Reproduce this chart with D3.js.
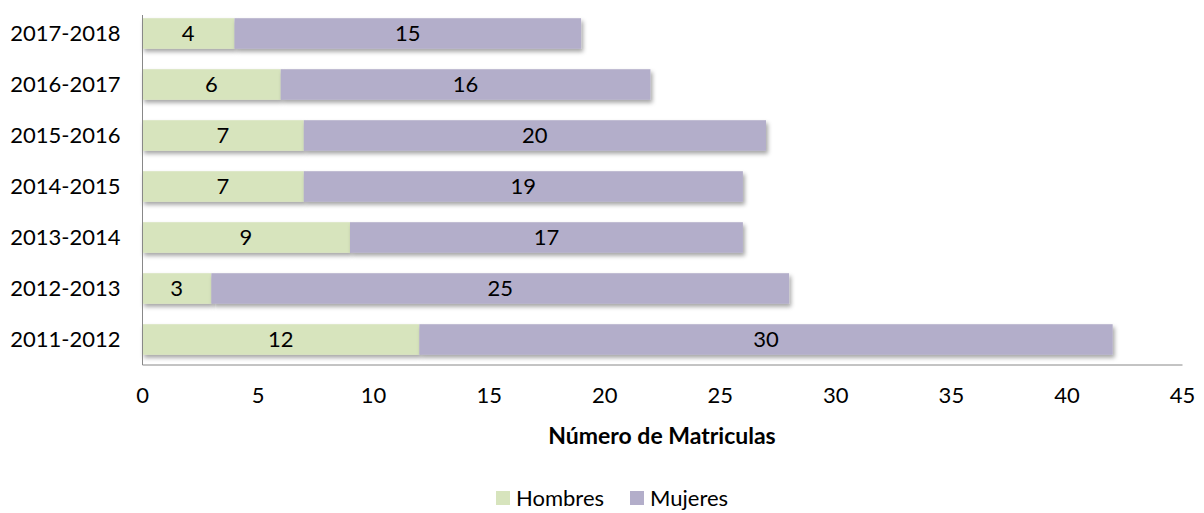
<!DOCTYPE html>
<html><head><meta charset="utf-8">
<script src="https://cdn.jsdelivr.net/npm/d3@7"></script>
<style>body{margin:0;background:#fff}svg{display:block}text{font-family:Lato,"Open Sans",sans-serif;fill:#000}</style>
</head><body><svg id="c" width="1204" height="513"></svg>
<script>
const categories = ["2017-2018","2016-2017","2015-2016","2014-2015","2013-2014","2012-2013","2011-2012"];
const hombres = [4,6,7,7,9,3,12];
const mujeres = [15,16,20,19,17,25,30];
const seriesNames = ["Hombres","Mujeres"];
const colors = ["#d7e4bd","#b3aeca"];
const xTicks = [0,5,10,15,20,25,30,35,40,45];

const svg = d3.select("#c");
const defs = svg.append("defs");
const f = defs.append("filter").attr("id","sh").attr("x","-5%").attr("y","-20%").attr("width","110%").attr("height","160%");
f.append("feDropShadow").attr("dx",2).attr("dy",3).attr("stdDeviation",2).attr("flood-color","#000").attr("flood-opacity",0.35);

const x = d3.scaleLinear().domain([0,45]).range([142,1182]);
const y = d3.scaleBand().domain(categories).range([8,365]).paddingInner(0.4).paddingOuter(0.2);

const data = categories.map((c,i)=>({c, vals:[hombres[i],mujeres[i]]}));
const stacked = d3.stack().keys([0,1]).value((d,k)=>d.vals[k])(data);

stacked.forEach((layer,k)=>{
  svg.append("g").selectAll("rect").data(layer).join("rect")
    .attr("x",d=>x(d[0])).attr("width",d=>x(d[1])-x(d[0]))
    .attr("y",d=>y(d.data.c)).attr("height",y.bandwidth())
    .attr("fill",colors[k]).attr("filter","url(#sh)");
});
stacked.forEach((layer,k)=>{
  svg.append("g").selectAll("text").data(layer).join("text")
    .attr("x",d=>(x(d[0])+x(d[1]))/2).attr("y",d=>y(d.data.c)+y.bandwidth()/2)
    .attr("dy","0.36em").attr("text-anchor","middle").attr("font-size",22)
    .text(d=>d[1]-d[0]);
});

// axes
const xa = svg.append("g").attr("transform","translate(0,364.5)")
  .call(d3.axisBottom(x).tickValues(xTicks).tickSize(0).tickPadding(23));
xa.select(".domain").attr("stroke","#888");
xa.selectAll("text").attr("font-size",22).style("font-family","Lato,'Open Sans',sans-serif").attr("fill","#000");

const ya = svg.append("g").attr("transform","translate(142.5,0)")
  .call(d3.axisLeft(y).tickSize(0).tickPadding(22));
ya.select(".domain").attr("stroke","#888").attr("d","M0,15V365");
ya.selectAll("text").attr("font-size",22).style("font-family","Lato,'Open Sans',sans-serif").attr("fill","#000");

svg.append("text").attr("x",662).attr("y",444).attr("text-anchor","middle")
  .attr("font-size",23).attr("font-weight","bold").text("Número de Matriculas");

// legend
const legX = [496,630];
const lg = svg.append("g");
seriesNames.forEach((n,i)=>{
  lg.append("rect").attr("x",legX[i]).attr("y",491).attr("width",14).attr("height",14).attr("fill",colors[i]);
  lg.append("text").attr("x",legX[i]+20).attr("y",498).attr("dy","0.36em").attr("font-size",22).text(n);
});
</script></body></html>
